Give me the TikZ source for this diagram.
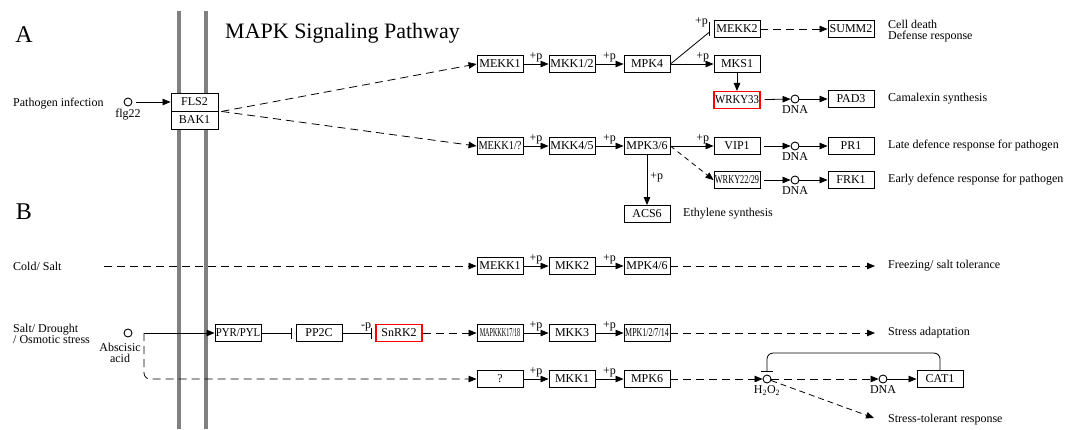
\documentclass[tikz,border=0pt]{standalone}
\usepackage{fontspec}
\setmainfont{Liberation Serif}
\usetikzlibrary{arrows.meta,calc}
\newcommand\sqz[2]{\scalebox{#1}[1]{#2}}
\begin{document}
\begin{tikzpicture}[x=1pt,y=-1pt,
 gene/.style={draw,line width=0.9pt,fill=white,minimum width=46pt,minimum height=17pt,inner sep=0pt,font=\fontsize{12}{13}\selectfont},
 redgene/.style={gene,draw=red,line width=1.1pt},
 dot/.style={circle,draw,line width=0.9pt,minimum size=8pt,inner sep=0pt},
 lbl/.style={inner sep=0pt,font=\fontsize{12}{11}\selectfont},
 pp/.style={inner sep=0pt,above=1.5pt,font=\fontsize{12}{12}\selectfont},
 conn/.style={line width=0.8pt},
 act/.style={conn,-{Triangle[length=8pt,width=6.5pt]}},
 dact/.style={act,dash pattern=on 8pt off 5pt},
 inh/.style={conn,-{Bar[width=11pt,line width=0.9pt]}},
 membrane/.style={line width=3.5pt,draw=black!50}
]
\useasboundingbox (0,0) rectangle (1075,429);
\fill[white] (0,0) rectangle (1075,429);
% membranes
\draw[membrane] (179,11) -- (179,429);
\draw[membrane] (206,11) -- (206,429);

% ---------------- A ----------------
\node[inner sep=0pt,font=\fontsize{24}{24}\selectfont] (labA) at (24,35) {A};
\node[inner sep=0pt,anchor=base west,font=\fontsize{22}{22}\selectfont] (title) at (225,38) {MAPK Signaling Pathway};

\node[lbl,anchor=west] (pathinf) at (13,104) {Pathogen infection};
\node[dot] (flg) at (128,102) {};
\node[lbl,anchor=north] (flglbl) at ($(flg.south)+(0,2)$) {flg22};
\node[gene,minimum width=47pt,minimum height=18pt] (fls2) at (194.5,102) {FLS2};
\node[gene,minimum width=47pt,minimum height=18pt] (bak1) at (194.5,120) {BAK1};
\draw[act,shorten <=4pt] (flg) -- (flg -| fls2.west);
\coordinate (fb) at ($(fls2.south east)+(3,0)$);

\node[gene] (mekk1a) at (500,64) {MEKK1};
\node[gene] (mkk12) at (572,64) {MKK1/2};
\node[gene] (mpk4) at (647,64) {MPK4};
\node[gene] (mks1) at (737,64) {MKS1};
\node[gene] (mekk2) at (737,29) {MEKK2};
\node[gene] (summ2) at (851,29) {SUMM2};
\node[redgene] (wrky33) at (737,100) {\sqz{0.9}{WRKY33}};
\node[dot] (dna1) at (795,99) {};
\node[lbl,anchor=north] (dna1l) at ($(dna1.south)+(0,2)$) {DNA};
\node[gene] (pad3) at (851,99) {PAD3};
\node[lbl,anchor=west,align=left] (celld) at (888,31) {Cell death\\Defense response};
\node[lbl,anchor=west] (camal) at (888,99) {Camalexin synthesis};

\draw[dact] (fb) -- (mekk1a.west);
\draw[act] (mekk1a) -- node[pp]{+p} (mkk12);
\draw[act] (mkk12) -- node[pp]{+p} (mpk4);
\draw[act] (mpk4) -- node[pp,pos=0.75]{+p} (mks1);
\coordinate (m2b) at ($(mekk2.west)+(-4,0)$);
\draw[conn] (mpk4.east) -- ($(m2b)+(0,3)$);
\draw[conn] ($(m2b)+(0,-7)$) -- ($(m2b)+(0,7)$);
\node[pp,above=0pt] (pm2) at ($(m2b)+(-8,0)$) {+p};
\draw[dact] (mekk2) -- (summ2);
\draw[act] (mks1) -- (wrky33);
\draw[act,shorten <=4pt] (wrky33) -- (dna1);
\draw[act] (dna1) -- (pad3);

\node[gene] (mekk1q) at (500,146) {\sqz{0.86}{MEKK1/?}};
\node[gene] (mkk45) at (572,146) {MKK4/5};
\node[gene] (mpk36) at (647,146) {MPK3/6};
\node[gene] (vip1) at (737,146) {VIP1};
\node[gene] (wrky22) at (737,180) {\sqz{0.69}{WRKY22/29}};
\node[gene] (acs6) at (647,214) {ACS6};
\node[lbl,anchor=west] (ethy) at (683,214) {Ethylene synthesis};
\node[dot] (dna2) at (795,146) {};
\node[lbl,anchor=north] (dna2l) at ($(dna2.south)+(0,2)$) {DNA};
\node[gene] (pr1) at (851,146) {PR1};
\node[dot] (dna3) at (795,180) {};
\node[lbl,anchor=north] (dna3l) at ($(dna3.south)+(0,2)$) {DNA};
\node[gene] (frk1) at (851,180) {FRK1};
\node[lbl,anchor=west] (late) at (888,146) {Late defence response for pathogen};
\node[lbl,anchor=west] (early) at (888,180) {Early defence response for pathogen};

\draw[dact] (fb) -- (mekk1q.west);
\draw[act] (mekk1q) -- node[pp]{+p} (mkk45);
\draw[act] (mkk45) -- node[pp]{+p} (mpk36);
\draw[act] (mpk36) -- node[pp,pos=0.75]{+p} (vip1);
\draw[act] (mpk36) -- node[inner sep=0pt,right=3pt,pos=0.45,font=\fontsize{12}{12}\selectfont]{+p} (acs6);
\draw[act,dash pattern=on 5pt off 4pt] (mpk36.east) -- (wrky22.west);
\draw[act,shorten <=4pt] (vip1) -- (dna2);
\draw[act] (dna2) -- (pr1);
\draw[act,shorten <=4pt] (wrky22) -- (dna3);
\draw[act] (dna3) -- (frk1);

% ---------------- B ----------------
\node[inner sep=0pt,font=\fontsize{24}{24}\selectfont] (labB) at (24,212) {B};

\node[lbl,anchor=west] (cold) at (13,266) {Cold/ Salt};
\coordinate (cs) at (104,266);
\node[gene] (mekk1b) at (500,266) {MEKK1};
\node[gene] (mkk2) at (572,266) {MKK2};
\node[gene] (mpk46) at (647,266) {MPK4/6};
\node[lbl,anchor=west] (frz) at (888,266) {Freezing/ salt tolerance};
\draw[dact] (cs) -- (mekk1b);
\draw[act] (mekk1b) -- node[pp]{+p} (mkk2);
\draw[act] (mkk2) -- node[pp]{+p} (mpk46);
\draw[dact,shorten >=13pt] (mpk46) -- (frz.west);

\node[lbl,anchor=west,align=left] (salt) at (13,334) {Salt/ Drought\\/ Osmotic stress};
\node[dot] (aba) at (128,333) {};
\node[lbl,anchor=north,align=center] (abal) at (120,343) {Abscisic\\acid};
\coordinate (aj) at (144,333);
\node[gene] (pyr) at (238,333) {\sqz{0.9}{PYR/PYL}};
\node[gene] (pp2c) at (319,333) {PP2C};
\node[redgene] (snrk2) at (399,333) {SnRK2};
\node[gene] (mapkkk) at (500,333) {\sqz{0.51}{MAPKKK17/18}};
\node[gene] (mkk3) at (572,333) {MKK3};
\node[gene] (mpk1) at (647,333) {\sqz{0.66}{MPK1/2/7/14}};
\node[lbl,anchor=west] (stad) at (888,333) {Stress adaptation};
\draw[act] (aj) -- (aj -| pyr.west);
\draw[inh,shorten >=4pt] (pyr) -- (pp2c);
\draw[inh,shorten >=4pt] (pp2c) -- node[pp,pos=0.72]{-p} (snrk2);
\draw[dact] (snrk2) -- (mapkkk);
\draw[act] (mapkkk) -- node[pp]{+p} (mkk3);
\draw[act] (mkk3) -- node[pp]{+p} (mpk1);
\draw[dact,shorten >=13pt] (mpk1) -- (stad.west);

\node[gene] (q) at (500,379) {?};
\node[gene] (mkk1) at (572,379) {MKK1};
\node[gene] (mpk6) at (647,379) {MPK6};
\node[dot] (h2o2) at (767,379) {};
\node[lbl,anchor=north] (h2o2l) at ($(h2o2.south)+(0,2)$) {H\textsubscript{2}O\textsubscript{2}};
\node[dot] (dna4) at (883,379) {};
\node[lbl,anchor=north] (dna4l) at ($(dna4.south)+(0,2)$) {DNA};
\node[gene] (cat1) at (940,379) {CAT1};
\node[lbl,anchor=west] (strt) at (888,420) {Stress-tolerant response};
\draw[dact,rounded corners=6pt] (aj) |- (q);
\draw[act] (q) -- node[pp]{+p} (mkk1);
\draw[act] (mkk1) -- node[pp]{+p} (mpk6);
\draw[dact] (mpk6) -- (h2o2);
\draw[dact] (h2o2) -- (dna4);
\draw[act] (dna4) -- (cat1);
\draw[conn,rounded corners=6pt] (cat1.north) -- ++(0,-17) -| ($(h2o2.north)+(0,-3)$);
\draw[conn] ($(h2o2.north)+(-6,-3)$) -- ($(h2o2.north)+(6,-3)$);
\draw[act,dash pattern=on 6pt off 4pt] (h2o2) -- ($(strt.west)+(-14,-2)$);
\end{tikzpicture}
\end{document}
